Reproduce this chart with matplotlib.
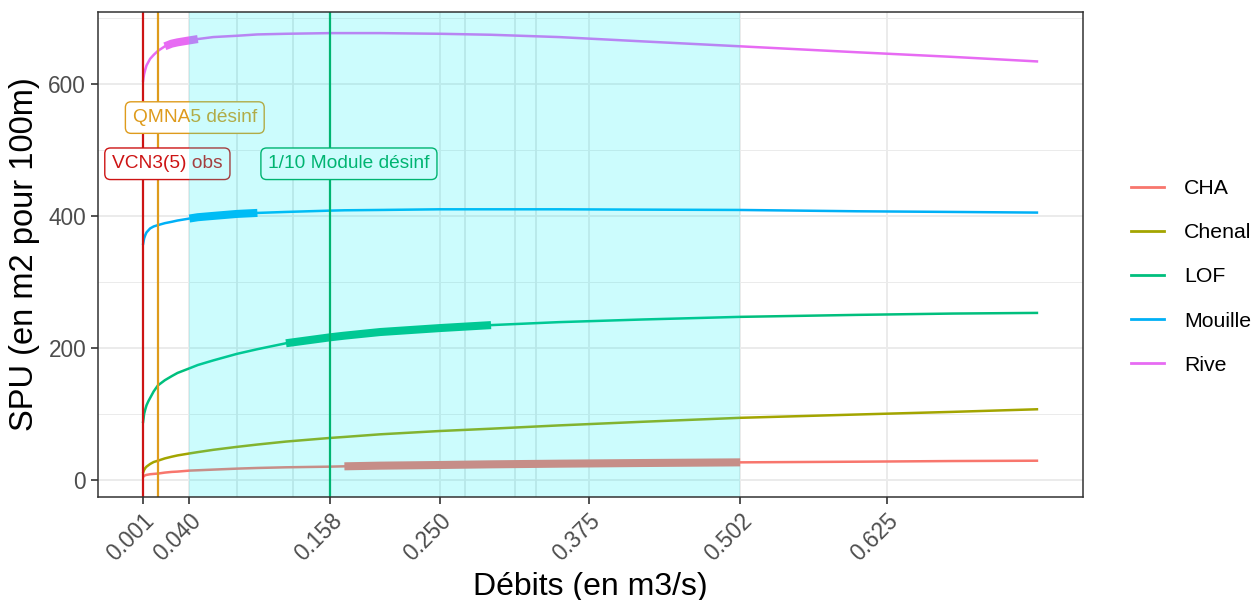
import matplotlib

matplotlib.use("Agg")
import matplotlib.pyplot as plt
from matplotlib.lines import Line2D

plt.rcParams["font.family"] = ["Liberation Sans", "DejaVu Sans"]

# debits (m3/s) shared by every habitat curve
DEBITS = [0.001, 0.0015, 0.002, 0.003, 0.004, 0.0055, 0.007, 0.01, 0.0135, 0.0194,
          0.025, 0.03, 0.04, 0.047, 0.06, 0.08, 0.097, 0.121, 0.158, 0.17,
          0.2, 0.25, 0.293, 0.35, 0.42, 0.502, 0.6, 0.68, 0.752]

SPU_CHA = [4, 5, 6, 7, 7.5, 8, 8.5, 9, 9.5, 11, 12, 12.5, 14, 14.5, 15.5, 17, 18, 19, 20, 20.5,
           21.5, 22.5, 23.5, 24.5, 25.5, 26.5, 27.5, 28.5, 29]
SPU_CHENAL = [10, 13, 15, 18, 20, 22, 24, 27, 29, 32.5, 35, 37, 40, 42, 45.5, 50, 53.5, 58, 63.5, 65,
              69, 74, 77.5, 82.5, 88, 94, 99, 103, 107]
SPU_LOF = [86, 93, 100, 107, 113, 119, 124, 134, 143, 151, 157, 162, 169, 174, 181, 191, 198, 207, 216, 218.5,
           224, 230, 234.5, 239, 243, 247, 250, 252, 253]
SPU_MOUILLE = [356, 361, 366, 371, 375, 378, 381, 384, 386, 389, 391, 393, 396, 398, 400, 403, 404.5, 406, 408, 408.5,
               409, 410, 410, 410, 409.5, 409, 407, 406, 405]
SPU_RIVE = [603, 610, 615, 622, 628, 633, 638, 644, 650, 657, 661, 663, 666, 668, 671, 673, 675, 676, 677, 677,
            677, 676, 674.5, 671, 664.5, 657, 648, 641, 634]

SERIES = ["CHA", "Chenal", "LOF", "Mouille", "Rive"]
SERIES_VALUES = [SPU_CHA, SPU_CHENAL, SPU_LOF, SPU_MOUILLE, SPU_RIVE]
# optimal range drawn thick (None = no range)
THICK_START = [0.17, None, 0.121, 0.04, 0.0194]
THICK_END = [0.502, None, 0.293, 0.097, 0.047]

X_BREAKS = [0.001, 0.040, 0.158, 0.250, 0.375, 0.502, 0.625]
X_LABELS = ["0.001", "0.040", "0.158", "0.250", "0.375", "0.502", "0.625"]
SHADE_RANGE = [0.040, 0.502]
SHADE_SEAMS = [0.0797, 0.1265, 0.2713, 0.3131, 0.3307]

REF_NAMES = ["VCN3(5) obs", "QMNA5 désinf", "1/10 Module désinf"]
REF_DEBITS = [0.001, 0.0135, 0.158]
REF_LABEL_X = [0.0215, 0.0445, 0.1738]
REF_LABEL_Y = [479, 549, 479]

COLORS = ["#F8766D", "#A3A500", "#00BF7D", "#00B0F6", "#E76BF3"]
REF_COLORS = ["#CD1414", "#DE9B1C", "#00A651"]


def main() -> None:
    fig = plt.figure(figsize=(12.56, 6.0), dpi=100, facecolor="white")
    ax = fig.add_axes([98 / 1256, 1 - 497 / 600, (1083 - 98) / 1256, (497 - 12) / 600])

    # grid
    for y in [100, 300, 500, 700]:
        ax.axhline(y, color="#ebebeb", lw=0.7, zorder=0.5)
    for y in [0, 200, 400, 600]:
        ax.axhline(y, color="#ebebeb", lw=1.4, zorder=0.5)
    for x in X_BREAKS:
        ax.axvline(x, color="#ebebeb", lw=1.4, zorder=0.5)
    for x in SHADE_SEAMS:
        ax.axvline(x, color="#e6e6e6", lw=1.3, zorder=0.6)

    for name, values, color, t0, t1 in zip(SERIES, SERIES_VALUES, COLORS, THICK_START, THICK_END):
        ax.plot(DEBITS, values, color=color, lw=1.8, zorder=2, solid_capstyle="butt",
                solid_joinstyle="round")
        if t0 is not None:
            seg = [(d, v) for d, v in zip(DEBITS, values) if t0 <= d <= t1]
            ax.plot([p[0] for p in seg], [p[1] for p in seg], color=color, lw=5.8,
                    zorder=2.5, solid_capstyle="butt")

    for d, c in zip(REF_DEBITS, REF_COLORS):
        ax.axvline(d, color=c, lw=1.6, zorder=3)
    for name, lx, ly, c in zip(REF_NAMES, REF_LABEL_X, REF_LABEL_Y, REF_COLORS):
        ax.text(lx, ly, name, ha="center", va="center", color=c, fontsize=13.8, zorder=4,
                bbox=dict(boxstyle="round,pad=0.38,rounding_size=0.3", fc="white", ec=c, lw=1.0))

    ax.axvspan(SHADE_RANGE[0], SHADE_RANGE[1], color="#00F0F5", alpha=0.2, lw=0, zorder=5)

    ax.set_xlim(-0.0367, 0.7896)
    ax.set_ylim(-26, 709)
    ax.set_xticks(X_BREAKS)
    ax.set_xticklabels(X_LABELS, rotation=45, ha="right", va="top", rotation_mode="anchor")
    ax.set_yticks([0, 200, 400, 600])
    ax.tick_params(axis="both", colors="#333333", labelcolor="#4d4d4d", labelsize=16.3,
                   length=5, width=1.2)
    for spine in ax.spines.values():
        spine.set_color("#333333")
        spine.set_linewidth(1.1)
        spine.set_zorder(6)
    ax.set_xlabel("Débits (en m3/s)", fontsize=23, labelpad=5)
    ax.set_ylabel("SPU (en m2 pour 100m)", fontsize=23.5, labelpad=6)

    handles = [Line2D([0], [0], color=c, lw=2.0) for c in COLORS]
    fig.legend(handles, SERIES, loc="center left", bbox_to_anchor=(1112 / 1256, 1 - 277 / 600),
               frameon=False, fontsize=15.3, handlelength=1.55, handletextpad=0.95,
               labelspacing=1.18, borderpad=0.4)

    fig.savefig("out.png", dpi=100, facecolor="white")
    plt.close(fig)


if __name__ == "__main__":
    main()
